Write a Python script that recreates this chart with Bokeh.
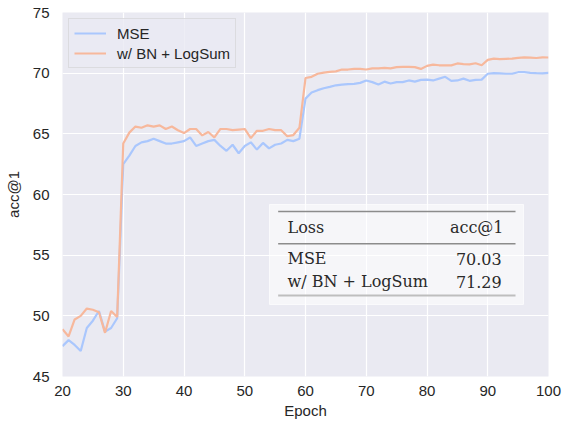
from bokeh.plotting import figure
from bokeh.models import Range1d, Label, BoxAnnotation, Legend, LegendItem, FixedTicker
from bokeh.embed import file_html
from bokeh.resources import INLINE

epochs = list(range(20, 101))
mse = [47.5, 48.0, 47.6, 47.1, 49.0, 49.6, 50.4, 48.7, 49.0, 49.8,
       62.5, 63.2, 64.0, 64.3, 64.4, 64.6, 64.4, 64.2, 64.2, 64.3,
       64.4, 64.7, 64.0, 64.2, 64.4, 64.5, 64.0, 63.6, 64.1, 63.4,
       64.0, 64.3, 63.7, 64.25, 63.8, 64.1, 64.2, 64.5, 64.4, 64.6,
       67.9, 68.4, 68.6, 68.76, 68.87, 69.0, 69.05, 69.1, 69.12, 69.2,
       69.4, 69.26, 69.07, 69.3, 69.15, 69.26, 69.26, 69.4, 69.3, 69.45,
       69.47, 69.4, 69.55, 69.7, 69.37, 69.4, 69.55, 69.37, 69.45, 69.47,
       69.95, 70.0, 69.98, 69.95, 69.95, 70.08, 70.08, 70.03, 70.0, 69.98,
       70.03]
bn_logsum = [48.9, 48.3, 49.7, 50.0, 50.6, 50.5, 50.3, 48.6, 50.4, 49.9,
             64.2, 65.1, 65.6, 65.5, 65.7, 65.6, 65.7, 65.4, 65.6, 65.3,
             65.06, 65.4, 65.4, 64.87, 65.15, 64.7, 65.4, 65.4, 65.3, 65.35,
             65.4, 64.65, 65.25, 65.25, 65.4, 65.3, 65.3, 64.8, 64.9, 65.5,
             69.6, 69.7, 69.95, 70.05, 70.1, 70.15, 70.3, 70.3, 70.35, 70.35,
             70.3, 70.4, 70.4, 70.43, 70.4, 70.5, 70.52, 70.52, 70.5, 70.35,
             70.6, 70.7, 70.65, 70.64, 70.64, 70.8, 70.75, 70.72, 70.82, 70.65,
             71.1, 71.2, 71.15, 71.18, 71.2, 71.26, 71.3, 71.28, 71.25, 71.3,
             71.29]
series_names = ["MSE", "w/ BN + LogSum"]
colors = ["#aac7fd", "#f7b89c"]
x_ticks = [20, 30, 40, 50, 60, 70, 80, 90, 100]
y_ticks = [45, 50, 55, 60, 65, 70, 75]

SANS = "Liberation Sans"
SERIF = "DejaVu Serif"

p = figure(width=565, height=421, output_backend="svg", toolbar_location=None,
           x_range=Range1d(20, 100), y_range=Range1d(45, 75),
           min_border_left=62, min_border_right=17, min_border_top=12, min_border_bottom=45)
p.background_fill_color = "#EAEAF2"
p.border_fill_color = "white"
p.outline_line_color = None

for ax in (p.xaxis[0], p.yaxis[0]):
    ax.axis_line_color = None
    ax.major_tick_line_color = None
    ax.minor_tick_line_color = None
    ax.major_label_text_font = SANS
    ax.major_label_text_font_size = "15px"
    ax.major_label_text_color = "#262626"
    ax.axis_label_text_font = SANS
    ax.axis_label_text_font_size = "15px"
    ax.axis_label_text_font_style = "normal"
    ax.axis_label_text_color = "#262626"
    ax.major_tick_out = 0
    ax.major_tick_in = 0

p.xaxis.ticker = FixedTicker(ticks=x_ticks)
p.yaxis.ticker = FixedTicker(ticks=y_ticks)
p.xaxis.axis_label = "Epoch"
p.yaxis.axis_label = "acc@1"
p.xaxis.major_label_standoff = 9
p.xaxis.axis_label_standoff = 3
p.yaxis.major_label_standoff = 13
p.yaxis.axis_label_standoff = 8

p.xgrid.grid_line_color = "white"
p.ygrid.grid_line_color = "white"
p.xgrid.grid_line_width = 1.2
p.ygrid.grid_line_width = 1.2

r1 = p.line(epochs, mse, line_color=colors[0], line_width=2.2)
r2 = p.line(epochs, bn_logsum, line_color=colors[1], line_width=2.2)

legend = Legend(items=[LegendItem(label=series_names[0], renderers=[r1]),
                       LegendItem(label=series_names[1], renderers=[r2])],
                location="top_left")
legend.margin = 6
legend.padding = 5
legend.spacing = 2
legend.glyph_width = 32
legend.glyph_height = 18
legend.label_height = 18
legend.label_standoff = 11
legend.label_text_font = SANS
legend.label_text_font_size = "15px"
legend.label_text_color = "#262626"
legend.background_fill_color = "#EAEAF2"
legend.background_fill_alpha = 0.8
legend.border_line_color = "#cccccc"
legend.border_line_width = 1
p.add_layout(legend)

# summary table (annotation)
box = BoxAnnotation(left=54.07, right=95.88, top=59.18, bottom=50.94,
                    fill_color="white", fill_alpha=0.55,
                    line_color="white", line_alpha=0.7, line_width=1)
p.add_layout(box)

p.segment(x0=[55.5, 55.5], y0=[58.60, 55.94], x1=[94.57, 94.57], y1=[58.60, 55.94],
          line_color="black", line_width=1.5)
p.segment(x0=[55.5], y0=[51.68], x1=[94.57], y1=[51.68],
          line_color="#707070", line_width=2)

def add_text(x, y, txt, align="left"):
    p.add_layout(Label(x=x, y=y, text=txt, text_font=SERIF, text_font_size="16px",
                       text_align=align, text_baseline="alphabetic", text_color="#2a2a2a"))

add_text(57.04, 57.25, "Loss")
add_text(92.6, 57.25, "acc@1", "right")
add_text(57.04, 54.70, series_names[0])
add_text(92.3, 54.70, f"{mse[-1]:.2f}", "right")
add_text(57.04, 52.82, series_names[1])
add_text(92.3, 52.82, f"{bn_logsum[-1]:.2f}", "right")

open("out.html", "w").write(file_html(p, INLINE))
